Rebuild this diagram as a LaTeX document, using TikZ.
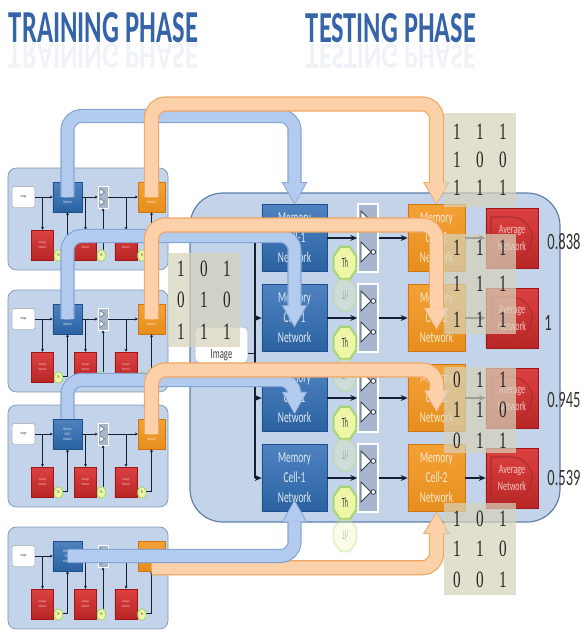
\documentclass[tikz,border=0pt]{standalone}
\usepackage{fontspec}
\usepackage{graphicx}
\usetikzlibrary{arrows.meta,positioning,shapes.geometric}
\newfontfamily\cfont[FakeStretch=0.62]{Carlito}
\newfontfamily\mfont[FakeStretch=0.65]{Liberation Serif}
\definecolor{tblue}{HTML}{3565A8}
\definecolor{pfill}{HTML}{C2D3EA}
\definecolor{pline}{HTML}{5D7EA8}
\definecolor{mcblue}{HTML}{2F6DB4}
\definecolor{mcblued}{HTML}{1F4F8C}
\definecolor{mcor}{HTML}{F2961F}
\definecolor{mcord}{HTML}{D07414}
\definecolor{avred}{HTML}{D92C2C}
\definecolor{avredd}{HTML}{9E1717}
\definecolor{thfill}{HTML}{EEF6A8}
\definecolor{thline}{HTML}{A5D774}
\definecolor{cmpfill}{HTML}{A7B6CE}
\definecolor{bbfill}{HTML}{B2CBEF}
\definecolor{bbline}{HTML}{86A4D4}
\definecolor{obfill}{HTML}{FCD0A8}
\definecolor{obline}{HTML}{EFA563}
\definecolor{matbg}{HTML}{D6D2BA}
\definecolor{wire}{HTML}{14202F}
\newcommand{\mrow}[3]{\makebox[19.6pt]{#1}\makebox[19.6pt]{#2}\makebox[19.6pt]{#3}}

\begin{document}
\begin{tikzpicture}[
  x=0.03cm,y=-0.03cm,font=\cfont,
  ptitle/.style={inner sep=0pt,text=tblue},
  tpanel/.style={draw=pline!80,fill=pfill,rounded corners=7pt,line width=0.6pt,
                 minimum width=136.6pt,minimum height=87pt},
  tpan/.style={draw=pline,fill=pfill,line width=1pt,rounded corners=28pt,
               minimum width=315.8pt,minimum height=280.8pt},
  memb/.style={draw=mcblued,top color=mcblue!85!white,bottom color=mcblue!90!black,
               text=white!85!mcblue,align=center,inner sep=0pt},
  memo/.style={draw=mcord,top color=mcor!90!white,bottom color=mcor!95!black,
               text=white!80!mcor,align=center,inner sep=0pt},
  avg/.style={draw=avredd,top color=avred!90!white,bottom color=avred!85!black,
              text=white!75!avred,align=center,inner sep=0pt},
  gate/.style={draw=wire!85,fill=white,line width=0.7pt},
  smem/.style={memb,minimum width=24.8pt,minimum height=25.6pt,font=\cfont\fontsize{3.4}{4.2}\selectfont},
  sorg/.style={memo,minimum width=23pt,minimum height=25.6pt,font=\cfont\fontsize{3.4}{4.2}\selectfont},
  savg/.style={avg,minimum width=18.8pt,minimum height=25.6pt,font=\cfont\fontsize{3}{3.8}\selectfont},
  simg/.style={draw=gray!70,fill=white,rounded corners=1.5pt,minimum width=19.6pt,minimum height=17.9pt,
               inner sep=0pt,text=black!70,font=\cfont\fontsize{3.4}{4}\selectfont},
  scmp/.style={draw=white,fill=cmpfill,line width=0.5pt,minimum width=8.5pt,minimum height=18.8pt,inner sep=0pt,
               path picture={\foreach \dy in {-5,5}{
                 \draw[gate,line width=0.3pt] ([shift={(-3,\dy-3.5)}]path picture bounding box.center)
                   -- ++(0,7) -- ++(4.5,-3.5) -- cycle;}}},
  sth/.style={regular polygon,regular polygon sides=8,draw=thline,fill=thfill,line width=0.8pt,
              minimum size=10pt,inner sep=0pt,xscale=0.75,transform shape,
              font=\cfont\fontsize{3.5}{4}\selectfont},
  bmem/.style={memb,minimum width=55.5pt,minimum height=57.2pt,font=\cfont\fontsize{13}{17}\selectfont},
  borg/.style={memo,minimum width=48.7pt,minimum height=57.2pt,font=\cfont\fontsize{13}{17}\selectfont},
  bavg/.style={avg,minimum width=44.4pt,minimum height=51.2pt,font=\cfont\fontsize{11}{15}\selectfont,
               path picture={\draw[avredd!90,line width=0.9pt]
                 ([shift={(-21,-21)}]path picture bounding box.center) -- ++(20,0)
                 arc[start angle=90,end angle=-90,radius=18pt] -- ++(-20,0) -- cycle;}},
  bimg/.style={draw=gray!70,fill=white,rounded corners=4pt,minimum width=45.2pt,minimum height=30.7pt,inner sep=0pt},
  bcmp/.style={draw=white,fill=cmpfill,line width=1.2pt,minimum width=17pt,minimum height=58pt,inner sep=0pt,
               path picture={\foreach \dy in {-17,14}{
                 \draw[gate] ([shift={(-7,\dy-10)}]path picture bounding box.center)
                   -- ++(0,20) -- ++(10,-10) -- cycle;
                 \draw[gate] ([shift={(5.3,\dy)}]path picture bounding box.center) circle[radius=2pt];}}},
  bth/.style={regular polygon,regular polygon sides=8,draw=thline,fill=thfill,line width=1.8pt,
              minimum size=30pt,inner sep=0pt,xscale=0.7,transform shape,text=black!80,
              font=\cfont\fontsize{12}{14}\selectfont},
  sarr/.style={-{Stealth[length=2.5pt,width=2.5pt]},line width=0.5pt,wire},
  arr/.style={-{Stealth[length=6pt,width=5pt]},line width=1.1pt,wire},
  bband/.style={line width=10pt,draw=bbfill,rounded corners=12pt,shorten >=1.2pt,
                -{Triangle[width=19pt,length=17pt,line width=0.1pt]},
                preaction={draw=bbline,line width=12pt,shorten >=0pt,
                           -{Triangle[width=22pt,length=19pt,line width=0.1pt]}}},
  oband/.style={line width=11pt,draw=obfill,rounded corners=12pt,shorten >=1.2pt,
                -{Triangle[width=20pt,length=17pt,line width=0.1pt]},
                preaction={draw=obline,line width=13pt,shorten >=0pt,
                           -{Triangle[width=23pt,length=19pt,line width=0.1pt]}}},
  mat/.style={fill=matbg,fill opacity=0.72,text opacity=1,inner sep=0pt,minimum width=61pt,
              align=center,text=black!85,font=\mfont\fontsize{20}{#1}\selectfont},
  score/.style={inner sep=0pt,text=black!80,font=\cfont\fontsize{20}{22}\selectfont}]
  \useasboundingbox (0,0) rectangle (582,631);

  % titles and their reflections
  \node[ptitle] (ttrain) at (103.5,28) {\resizebox{5.67cm}{0.9cm}{\bfseries TRAINING PHASE}};
  \node[ptitle] (ttest) at (391,28) {\resizebox{5.1cm}{0.87cm}{\bfseries TESTING PHASE}};
  \node[ptitle,opacity=0.08,yscale=-1,transform shape] (ttrainr) at (103.5,56)
    {\resizebox{5.67cm}{0.75cm}{\bfseries TRAINING PHASE}};
  \node[ptitle,opacity=0.08,yscale=-1,transform shape] (ttestr) at (391,56)
    {\resizebox{5.1cm}{0.72cm}{\bfseries TESTING PHASE}};

  % training panels
  \foreach \i/\yt in {1/168,2/290,3/405,4/527} {
    \node[tpanel] (tp\i) at (88,\yt+51) {};
    \node[simg] (img\i) at (23.5,\yt+29) {Image};
    \node[smem] (mca\i) at (67.5,\yt+29) {Memory\\Cell-1\\Network};
    \node[scmp] (cs\i) at (103,\yt+29) {};
    \node[sorg] (mcb\i) at (151.5,\yt+29) {Memory\\Cell-2\\Network};
    \node[savg] (ra\i) at (42.5,\yt+77) {Average\\Network};
    \node[savg] (rb\i) at (85.5,\yt+77) {Average\\Network};
    \node[savg] (rc\i) at (126,\yt+77) {Average\\Network};
    \draw[sarr] (img\i) -- (mca\i);
    \draw[sarr] (mca\i) -- (cs\i);
    \draw[sarr] (cs\i) -- (mcb\i);
    \draw[sarr] (ra\i.north |- img\i) -- (ra\i);
    \draw[sarr] (rb\i.north |- mca\i) -- (rb\i);
    \draw[sarr] (rc\i.north |- mcb\i) -- (rc\i);
    \draw[sarr] ([yshift=-8pt]ra\i.east) -| (mca\i.south);
    \draw[sarr] ([yshift=-8pt]rb\i.east) -| (cs\i.south);
    \draw[sarr] ([yshift=-8pt]rc\i.east) -| (mcb\i.south);
    \node[sth] (tha\i) at ([xshift=4pt,yshift=4pt]ra\i.south east) {Th};
    \node[sth] (thb\i) at ([xshift=4pt,yshift=4pt]rb\i.south east) {Th};
    \node[sth] (thc\i) at ([xshift=4pt,yshift=4pt]rc\i.south east) {Th};
  }

  % testing panel
  \node[tpan] (testp) at (375,357.5) {};
  \node[bimg] (timg) at (221.5,345) {};
  \node[above=0pt of timg.south,inner sep=2pt,text=black!75,font=\cfont\fontsize{12}{14}\selectfont] (timgl) {Image};
  \coordinate (bustop) at (255,238);
  \coordinate (busbot) at (255,478);
  \draw[wire,line width=1.1pt] (bustop) -- (busbot);
  \draw[wire,line width=1.1pt] ([yshift=-7pt]timg.east) -| (bustop);
  \foreach \r/\c in {1/238,2/318,3/398,4/478} {
    \node[bmem] (tm\r) at (294.5,\c) {Memory\\Cell-1\\Network};
    \node[bcmp] (cmp\r) at (368,\c) {};
    \node[borg] (tc\r) at (436.5,\c) {Memory\\Cell-2\\Network};
    \node[bavg] (ta\r) at (512,\c) {Average\\Network};
    \node[bth] (th\r) at (345,\c+25) {Th};
    \node[bth,opacity=0.28] (thm\r) at (345,\c+57) {\scalebox{1}[-1]{Th}};
    \draw[arr] (tm\r.west -| bustop) -- (tm\r);
    \draw[arr] (tm\r) -- (cmp\r);
    \draw[arr] (cmp\r) -- (tc\r);
    \draw[arr] (tc\r) -- (ta\r);
  }
  \node[score] (sc1) at (564,242) {0.838};
  \node[score] (sc2) at (548,323) {1};
  \node[score] (sc3) at (564,400) {0.945};
  \node[score] (sc4) at (564,478) {0.539};

  % transfer bands
  \coordinate (bb1) at (0,116);
  \coordinate (bb2) at (0,236);
  \coordinate (bb3) at (0,380);
  \coordinate (ob1) at (0,104);
  \coordinate (ob2) at (0,225);
  \coordinate (ob3) at (0,370);
  \draw[bband] (mca1.center) |- (tm1.north |- bb1) -- (tm1.north);
  \draw[bband] (mca2.center) |- (tm2.north |- bb2) -- ([yshift=-8pt]tm2.center);
  \draw[bband] (mca3.north) |- (tm3.north |- bb3) -- ([yshift=-13.7pt]tm3.center);
  \draw[oband] (mcb1.center) |- (tc1.north |- ob1) -- (tc1.north);
  \draw[oband] (mcb2.center) |- (tc2.north |- ob2) -- ([yshift=-10pt]tc2.center);
  \draw[oband] (mcb3.center) |- (tc3.north |- ob3) -- ([yshift=-12pt]tc3.center);
  \draw[oband] ([yshift=-10pt]mcb4.center) -| (tc4.south);
  \draw[bband] (mca4.center) -| ([yshift=10pt]tm4.south);

  % binary matrices
  \node[mat=24pt,minimum height=81pt] (mx1) at (480,160) {\mrow{1}{1}{1}\\\mrow{1}{0}{0}\\\mrow{1}{1}{1}};
  \node[mat=30.7pt,minimum height=86pt] (mx2) at (480,284) {\mrow{1}{1}{1}\\\mrow{1}{1}{1}\\\mrow{1}{1}{1}};
  \node[mat=26pt,minimum height=73pt] (mx3) at (480,410) {\mrow{0}{1}{1}\\\mrow{1}{1}{0}\\\mrow{0}{1}{1}};
  \node[mat=26pt,minimum height=79pt] (mx4) at (480,549) {\mrow{1}{0}{1}\\\mrow{1}{1}{0}\\\mrow{0}{0}{1}};
  \node[mat=27pt,minimum height=81pt] (mxl) at (204,300) {\mrow{1}{0}{1}\\\mrow{0}{1}{0}\\\mrow{1}{1}{1}};
\end{tikzpicture}
\end{document}
